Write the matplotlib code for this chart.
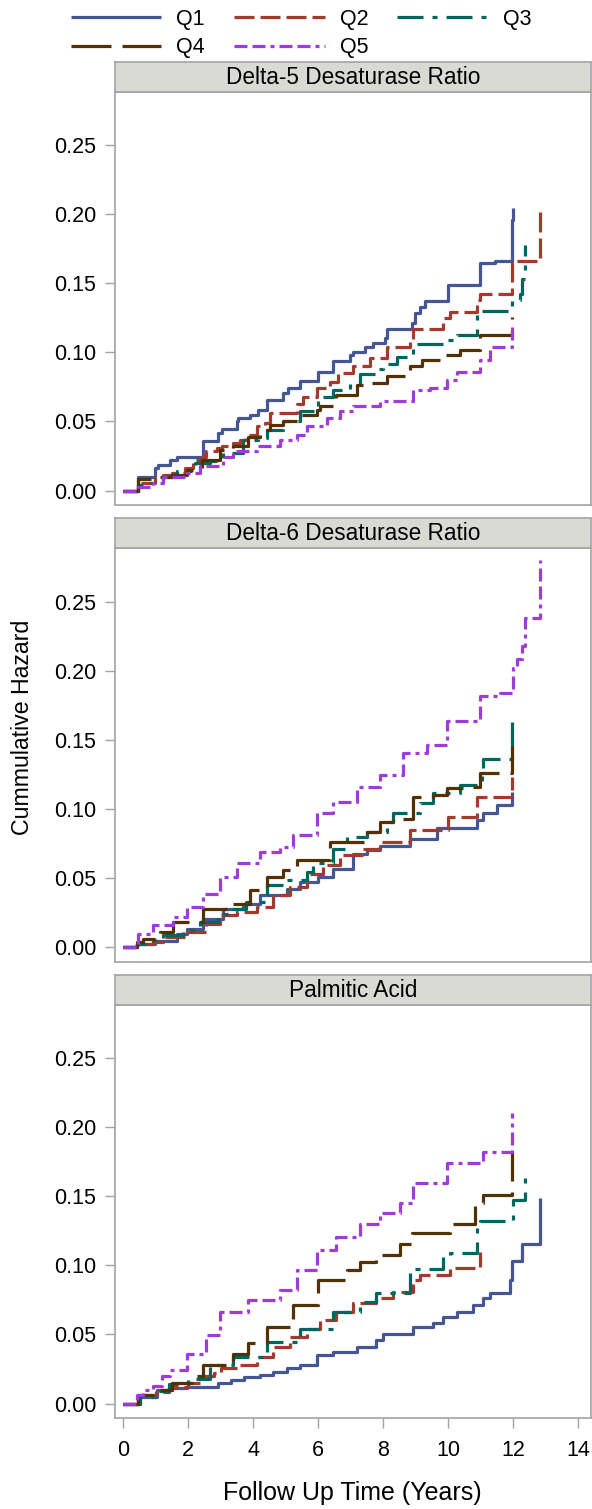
import matplotlib
matplotlib.use("Agg")
import matplotlib.pyplot as plt
from matplotlib.lines import Line2D

plt.rcParams['font.family'] = ['Liberation Sans', 'DejaVu Sans']
plt.rcParams['lines.scale_dashes'] = False

# ---------------- data ----------------
panel_titles = ["Delta-5 Desaturase Ratio", "Delta-6 Desaturase Ratio", "Palmitic Acid"]
series_names = ["Q1", "Q2", "Q3", "Q4", "Q5"]
x_ticks = [0, 2, 4, 6, 8, 10, 12, 14]
y_ticks = [0.00, 0.05, 0.10, 0.15, 0.20, 0.25]

# Panel 1: Delta-5 Desaturase Ratio
d5_q1_t = [0, 0.46, 0.97, 1.08, 1.44, 1.64, 2.46, 2.92, 3.03, 3.49, 3.54, 3.90, 4.15, 4.41, 4.90, 5.08, 5.44, 6.0, 6.46, 6.97, 7.08, 7.44, 7.69, 8.05, 8.12, 8.87, 8.97, 9.13, 9.28, 10.0, 10.97, 11.44, 11.95, 12.0]
d5_q1_v = [0, .0097, .0162, .0186, .0222, .0242, .0362, .0415, .0444, .050, .0524, .0548, .0585, .0657, .0705, .0742, .079, .0862, .0935, .0983, .100, .1039, .1068, .1104, .1169, .1213, .1285, .1333, .137, .149, .1647, .1662, .196, .2046]
d5_q2_t = [0, 0.46, 0.97, 1.23, 1.49, 1.90, 2.15, 2.41, 2.56, 2.87, 3.03, 3.38, 3.59, 3.79, 4.10, 4.36, 4.51, 5.33, 5.54, 5.95, 6.36, 6.62, 7.08, 7.59, 8.10, 8.82, 8.92, 9.85, 10.05, 10.87, 10.97, 11.95, 12.82]
d5_q2_v = [0, .0053, .0089, .0114, .013, .0162, .0222, .0246, .0283, .0308, .032, .0343, .0367, .0403, .0464, .0488, .056, .063, .0679, .0739, .0787, .0848, .0902, .0957, .1039, .1087, .1169, .1249, .1292, .1377, .1425, .1662, .2022]
d5_q3_t = [0, 0.46, 0.82, 1.23, 1.64, 2.21, 2.67, 3.08, 3.69, 4.15, 4.41, 4.92, 5.44, 6.0, 6.46, 6.97, 7.28, 7.79, 8.0, 8.41, 8.92, 9.85, 10.26, 10.87, 11.95, 12.22, 12.26, 12.36]
d5_q3_v = [0, .0041, .0053, .0101, .0138, .0199, .0211, .0274, .0366, .0379, .044, .0502, .0575, .0676, .0725, .0773, .0845, .0882, .092, .0966, .1063, .1087, .1123, .1304, .1377, .1425, .153, .1775]
d5_q4_t = [0, 0.46, 1.13, 1.49, 1.95, 2.41, 2.97, 3.38, 3.85, 4.21, 4.51, 4.92, 5.44, 5.95, 6.05, 6.56, 7.18, 7.49, 8.10, 8.82, 9.18, 9.85, 10.36, 10.97, 11.95]
d5_q4_v = [0, .008, .0101, .0114, .015, .0222, .0295, .0319, .0391, .044, .0476, .050, .0548, .0585, .0609, .0694, .0766, .0778, .0827, .0899, .0947, .0983, .1019, .1128, .1256]
d5_q5_t = [0, 0.46, 0.92, 1.23, 1.95, 2.36, 3.08, 3.38, 4.10, 4.82, 5.33, 5.64, 6.26, 6.67, 7.08, 7.90, 8.92, 9.44, 9.95, 10.26, 10.97, 11.28, 11.95]
d5_q5_v = [0, .0029, .0053, .0101, .0126, .0174, .0246, .0283, .0319, .0367, .0403, .0464, .0524, .0573, .0609, .0645, .0729, .0741, .0802, .0855, .0947, .1043, .1188]

# Panel 2: Delta-6 Desaturase Ratio
d6_q1_t = [0, 0.41, 0.97, 1.64, 1.95, 2.46, 3.08, 3.69, 4.21, 5.03, 5.44, 6.0, 6.46, 7.08, 7.49, 7.90, 8.82, 9.64, 10.87, 11.08, 11.49, 11.95]
d6_q1_v = [0, .0027, .0046, .0099, .0136, .0208, .0281, .0317, .0378, .0426, .0472, .0508, .0569, .0678, .0702, .0731, .0787, .086, .092, .0969, .1029, .1126]
d6_q2_t = [0, 0.41, 0.92, 1.23, 1.95, 2.56, 2.97, 3.49, 4.10, 4.62, 5.13, 5.64, 6.15, 6.67, 7.38, 7.90, 8.82, 10.0, 10.87, 11.95]
d6_q2_v = [0, .0027, .0039, .0075, .0111, .0172, .0232, .0257, .0291, .0378, .0436, .0533, .0593, .0666, .0714, .0763, .085, .0944, .1089, .1235]
d6_q3_t = [0, 0.41, 0.92, 1.23, 1.85, 2.36, 2.92, 3.38, 3.79, 4.41, 5.03, 5.64, 5.85, 6.46, 6.87, 7.49, 8.10, 8.31, 9.13, 9.54, 10.36, 11.03, 11.08, 11.95]
d6_q3_v = [0, .0027, .0051, .0087, .0123, .0184, .0245, .0281, .0329, .045, .0487, .0547, .0608, .0714, .0799, .0835, .0908, .0969, .1041, .1114, .1174, .1259, .1363, .1685]
d6_q4_t = [0, 0.41, 0.62, 1.13, 1.54, 2.46, 3.38, 3.90, 4.41, 4.92, 5.33, 6.36, 7.49, 7.90, 8.31, 8.92, 9.54, 9.95, 10.46, 10.97, 11.95]
d6_q4_v = [0, .0039, .0063, .0111, .0184, .0281, .0317, .0414, .0511, .0559, .0632, .0765, .0835, .0908, .0932, .109, .1102, .115, .1162, .1259, .1453]
d6_q5_t = [0, 0.46, 0.92, 1.54, 1.95, 2.46, 2.97, 3.49, 4.21, 4.82, 5.23, 5.95, 6.46, 7.18, 7.90, 8.61, 9.33, 9.95, 10.97, 11.59, 12.0, 12.10, 12.26, 12.36, 12.82]
d6_q5_v = [0, .0099, .016, .022, .0293, .039, .0511, .0608, .0692, .0727, .0811, .0969, .1053, .1162, .1247, .1404, .1465, .1634, .1816, .184, .2022, .2082, .218, .2378, .2797]

# Panel 3: Palmitic Acid
pa_q1_t = [0, 0.46, 1.03, 1.5, 1.95, 2.9, 3.3, 3.7, 4.2, 4.6, 5.03, 5.44, 5.95, 6.46, 7.18, 7.79, 8.0, 8.92, 9.54, 9.85, 10.26, 10.77, 11.08, 11.28, 11.90, 11.97, 12.26, 12.82]
pa_q1_v = [0, .005, .0096, .011, .012, .015, .017, .019, .021, .023, .0254, .0278, .035, .0374, .041, .0459, .0507, .0556, .058, .0628, .0664, .0713, .0761, .0797, .0894, .1031, .1159, .1486]
pa_q2_t = [0, 0.5, 1.0, 1.4, 2.0, 2.4, 2.8, 3.0, 3.59, 4.10, 4.62, 5.13, 5.64, 6.05, 6.56, 7.08, 7.79, 8.31, 8.92, 9.13, 10.05, 10.97]
pa_q2_v = [0, .006, .008, .012, .015, .020, .022, .0254, .0278, .0338, .041, .0483, .0543, .0604, .0664, .0725, .0761, .0809, .0894, .093, .0983, .1099]
pa_q3_t = [0, 0.5, 1.0, 1.4, 2.0, 2.67, 3.38, 4.41, 5.44, 6.46, 7.28, 7.79, 8.82, 8.92, 9.85, 10.05, 10.87, 10.97, 12.0, 12.36]
pa_q3_v = [0, .005, .009, .014, .018, .0278, .0338, .0447, .0543, .0664, .0737, .0797, .0954, .0978, .1063, .1092, .1304, .1323, .1473, .1691]
pa_q4_t = [0, 0.46, 1.0, 1.5, 2.1, 2.46, 3.38, 3.85, 4.41, 5.23, 6.0, 6.87, 7.28, 7.79, 8.51, 8.87, 10.05, 10.82, 11.08, 11.95]
pa_q4_v = [0, .006, .010, .015, .020, .0278, .0362, .0435, .0556, .0713, .0894, .0966, .1027, .1075, .1159, .1232, .1304, .1449, .151, .1824]
pa_q5_t = [0, 0.41, 0.6, 0.9, 1.2, 1.44, 1.95, 2.56, 2.97, 3.85, 4.82, 5.33, 5.95, 6.56, 7.28, 7.90, 8.51, 8.92, 9.95, 11.08, 11.95]
pa_q5_v = [0, .006, .010, .013, .020, .0242, .0362, .0495, .0664, .0749, .0821, .0966, .1111, .1208, .1304, .1377, .1449, .1594, .1739, .1824, .2101]

panels = [
    [(d5_q1_t, d5_q1_v), (d5_q2_t, d5_q2_v), (d5_q3_t, d5_q3_v), (d5_q4_t, d5_q4_v), (d5_q5_t, d5_q5_v)],
    [(d6_q1_t, d6_q1_v), (d6_q2_t, d6_q2_v), (d6_q3_t, d6_q3_v), (d6_q4_t, d6_q4_v), (d6_q5_t, d6_q5_v)],
    [(pa_q1_t, pa_q1_v), (pa_q2_t, pa_q2_v), (pa_q3_t, pa_q3_v), (pa_q4_t, pa_q4_v), (pa_q5_t, pa_q5_v)],
]

# ---------------- style ----------------
colors = ['#445694', '#A23A2E', '#01665E', '#543005', '#9D3CDB']
px = 0.72  # points per pixel at 100 dpi
dash_styles = [
    None,
    (0, [20 * px, 6 * px]),
    (0, [26 * px, 9 * px, 5 * px, 9 * px]),
    (0, [40 * px, 11 * px]),
    (0, [13 * px, 5 * px, 13 * px, 5 * px, 4 * px, 5 * px]),
]
LW = 2.3
frame_col = '#A3A3A3'
header_bg = '#D9DAD4'

W, H = 592, 1509
fig = plt.figure(figsize=(W / 100, H / 100), dpi=100)

def fx(p):
    return p / W

def fy(p):
    return 1 - p / H

left_px, right_px = 114.5, 591
plot_tops = [92, 548, 1005]
plot_bots = [505, 962, 1418]
header_h = 30

axes = []
for i in range(3):
    t, b = plot_tops[i], plot_bots[i]
    ax = fig.add_axes([fx(left_px), fy(b), fx(right_px - left_px), (b - t) / H])
    axes.append(ax)
    for k, (tt, vv) in enumerate(panels[i]):
        ln, = ax.step(tt, vv, where='post', color=colors[k], lw=LW,
                      solid_capstyle='butt', dash_capstyle='butt')
        if dash_styles[k] is not None:
            ln.set_linestyle(dash_styles[k])
    ax.set_xlim(-0.27, 14.39)
    ax.set_ylim(-0.0105, 0.2887)
    ax.set_yticks(y_ticks)
    ax.set_yticklabels([f"{v:.2f}" for v in y_ticks])
    ax.tick_params(axis='y', length=7.2, width=1.0, color=frame_col, pad=6,
                   labelsize=15.5, labelcolor='black')
    if i == 2:
        ax.set_xticks(x_ticks)
        ax.set_xticklabels([str(v) for v in x_ticks])
        ax.tick_params(axis='x', length=7.2, width=1.0, color=frame_col, pad=9,
                       labelsize=15.5, labelcolor='black')
    else:
        ax.set_xticks([])
    for s in ax.spines.values():
        s.set_color(frame_col)
        s.set_linewidth(1.2)
    # header strip
    hax = fig.add_axes([fx(left_px), fy(t), fx(right_px - left_px), header_h / H])
    hax.set_xticks([])
    hax.set_yticks([])
    hax.set_facecolor(header_bg)
    for s in hax.spines.values():
        s.set_color(frame_col)
        s.set_linewidth(1.2)
    hax.text(0.5, 0.47, panel_titles[i], ha='center', va='center', fontsize=16.3,
             transform=hax.transAxes)

axes[2].set_xlabel("Follow Up Time (Years)", fontsize=18, labelpad=14)
fig.text(fx(23), fy(727.5), "Cummulative Hazard", rotation=90, ha='center', va='center',
         fontsize=16.7)

# legend (row-major order as in the reference)
handles = []
for k in range(5):
    h = Line2D([], [], color=colors[k], lw=LW, solid_capstyle='butt', dash_capstyle='butt')
    if dash_styles[k] is not None:
        h.set_linestyle(dash_styles[k])
    handles.append(h)
order = [0, 3, 1, 4, 2]
fig.legend([handles[j] for j in order], [series_names[j] for j in order],
           ncol=3, loc='upper left', bbox_to_anchor=(fx(71), fy(9)),
           frameon=False, fontsize=15.5, handlelength=4.2, handletextpad=0.7,
           columnspacing=1.35, labelspacing=0.33, borderpad=0, borderaxespad=0)

fig.savefig("out.png", dpi=100)
